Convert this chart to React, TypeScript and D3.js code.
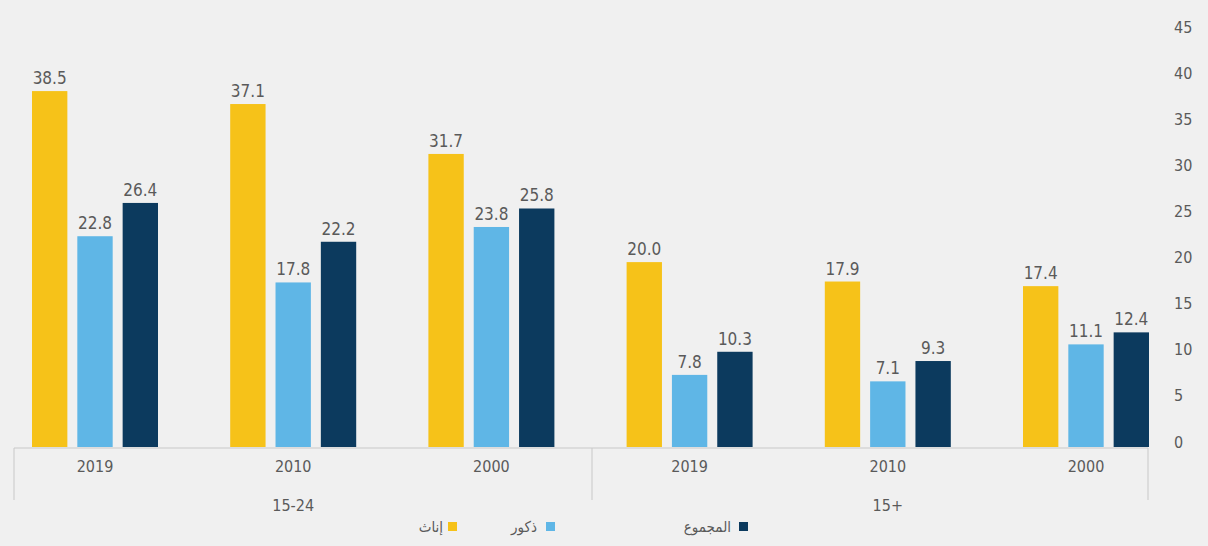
import React from "react";
import * as d3 from "d3";

const years = ["2019", "2010", "2000", "2019", "2010", "2000"];
const ageGroups = ["15-24", "15+"];
const seriesNames = ["إناث", "ذكور", "المجموع"];
const females = [38.5, 37.1, 31.7, 20.0, 17.9, 17.4];
const males = [22.8, 17.8, 23.8, 7.8, 7.1, 11.1];
const totals = [26.4, 22.2, 25.8, 10.3, 9.3, 12.4];
const yTicks = [0, 5, 10, 15, 20, 25, 30, 35, 40, 45];
const colors = ["#f6c219", "#5fb6e6", "#0c3a5e"];

const W = 1208;
const H = 546;
const FONT = "'Liberation Sans Narrow', 'DejaVu Sans Condensed', 'Roboto', sans-serif";

export default function App() {
  const series = [females, males, totals];
  const y = d3.scaleLinear().domain([0, 45]).range([447, 31]);
  const x = d3.scalePoint<number>().domain(d3.range(years.length)).range([95, 1086]);
  const inner = d3.scaleBand<number>().domain([0, 1, 2]).range([-63, 63]).paddingInner(0.22);
  const bw = inner.bandwidth();
  const left = 14, right = 1148, mid = 592;
  const textColor = "#5a5a5a";

  return (
    <svg width={W} height={H} style={{ position: "absolute", left: 0, top: 0, background: "#f0f0f0" }} fontFamily={FONT}>
      <rect width={W} height={H} fill="#f0f0f0" />
      {series.map((vals, si) =>
        vals.map((v, gi) => {
          const bx = (x(gi) as number) + (inner(si) as number);
          return (
            <g key={`${si}-${gi}`}>
              <rect x={bx} y={y(v)} width={bw} height={y(0) - y(v)} fill={colors[si]} />
              <text x={bx + bw / 2} y={y(v) - 7} textAnchor="middle" fontSize={17} fill={textColor}>
                {v.toFixed(1)}
              </text>
            </g>
          );
        })
      )}
      <line x1={left} x2={right} y1={y(0) + 1} y2={y(0) + 1} stroke="#c8c8c8" strokeWidth={1} />
      {[left, mid, right].map((sx, i) => (
        <line key={i} x1={sx} x2={sx} y1={y(0) + 1} y2={500} stroke="#c8c8c8" strokeWidth={1} />
      ))}
      {years.map((yr, i) => (
        <text key={i} x={x(i) as number} y={472} textAnchor="middle" fontSize={16} fill={textColor}>
          {yr}
        </text>
      ))}
      {ageGroups.map((g, i) => (
        <text key={g} x={x(i * 3 + 1) as number} y={511} textAnchor="middle" fontSize={16} fill={textColor}>
          {g}
        </text>
      ))}
      {yTicks.map((t) => (
        <text key={t} x={1174} y={y(t) - 4 + t * 0.04} dominantBaseline="middle" fontSize={16} fill={textColor}>
          {t}
        </text>
      ))}
      {[
        { sq: 448, tx: 443 },
        { sq: 546, tx: 537 },
        { sq: 739, tx: 731 },
      ].map((l, i) => (
        <g key={i}>
          <rect x={l.sq} y={522} width={9} height={9} fill={colors[i]} />
          <text x={l.tx} y={527} textAnchor="end" dominantBaseline="middle" fontSize={15} fill={textColor} fontFamily="'DejaVu Sans Condensed', 'DejaVu Sans', sans-serif">
            {seriesNames[i]}
          </text>
        </g>
      ))}
    </svg>
  );
}
